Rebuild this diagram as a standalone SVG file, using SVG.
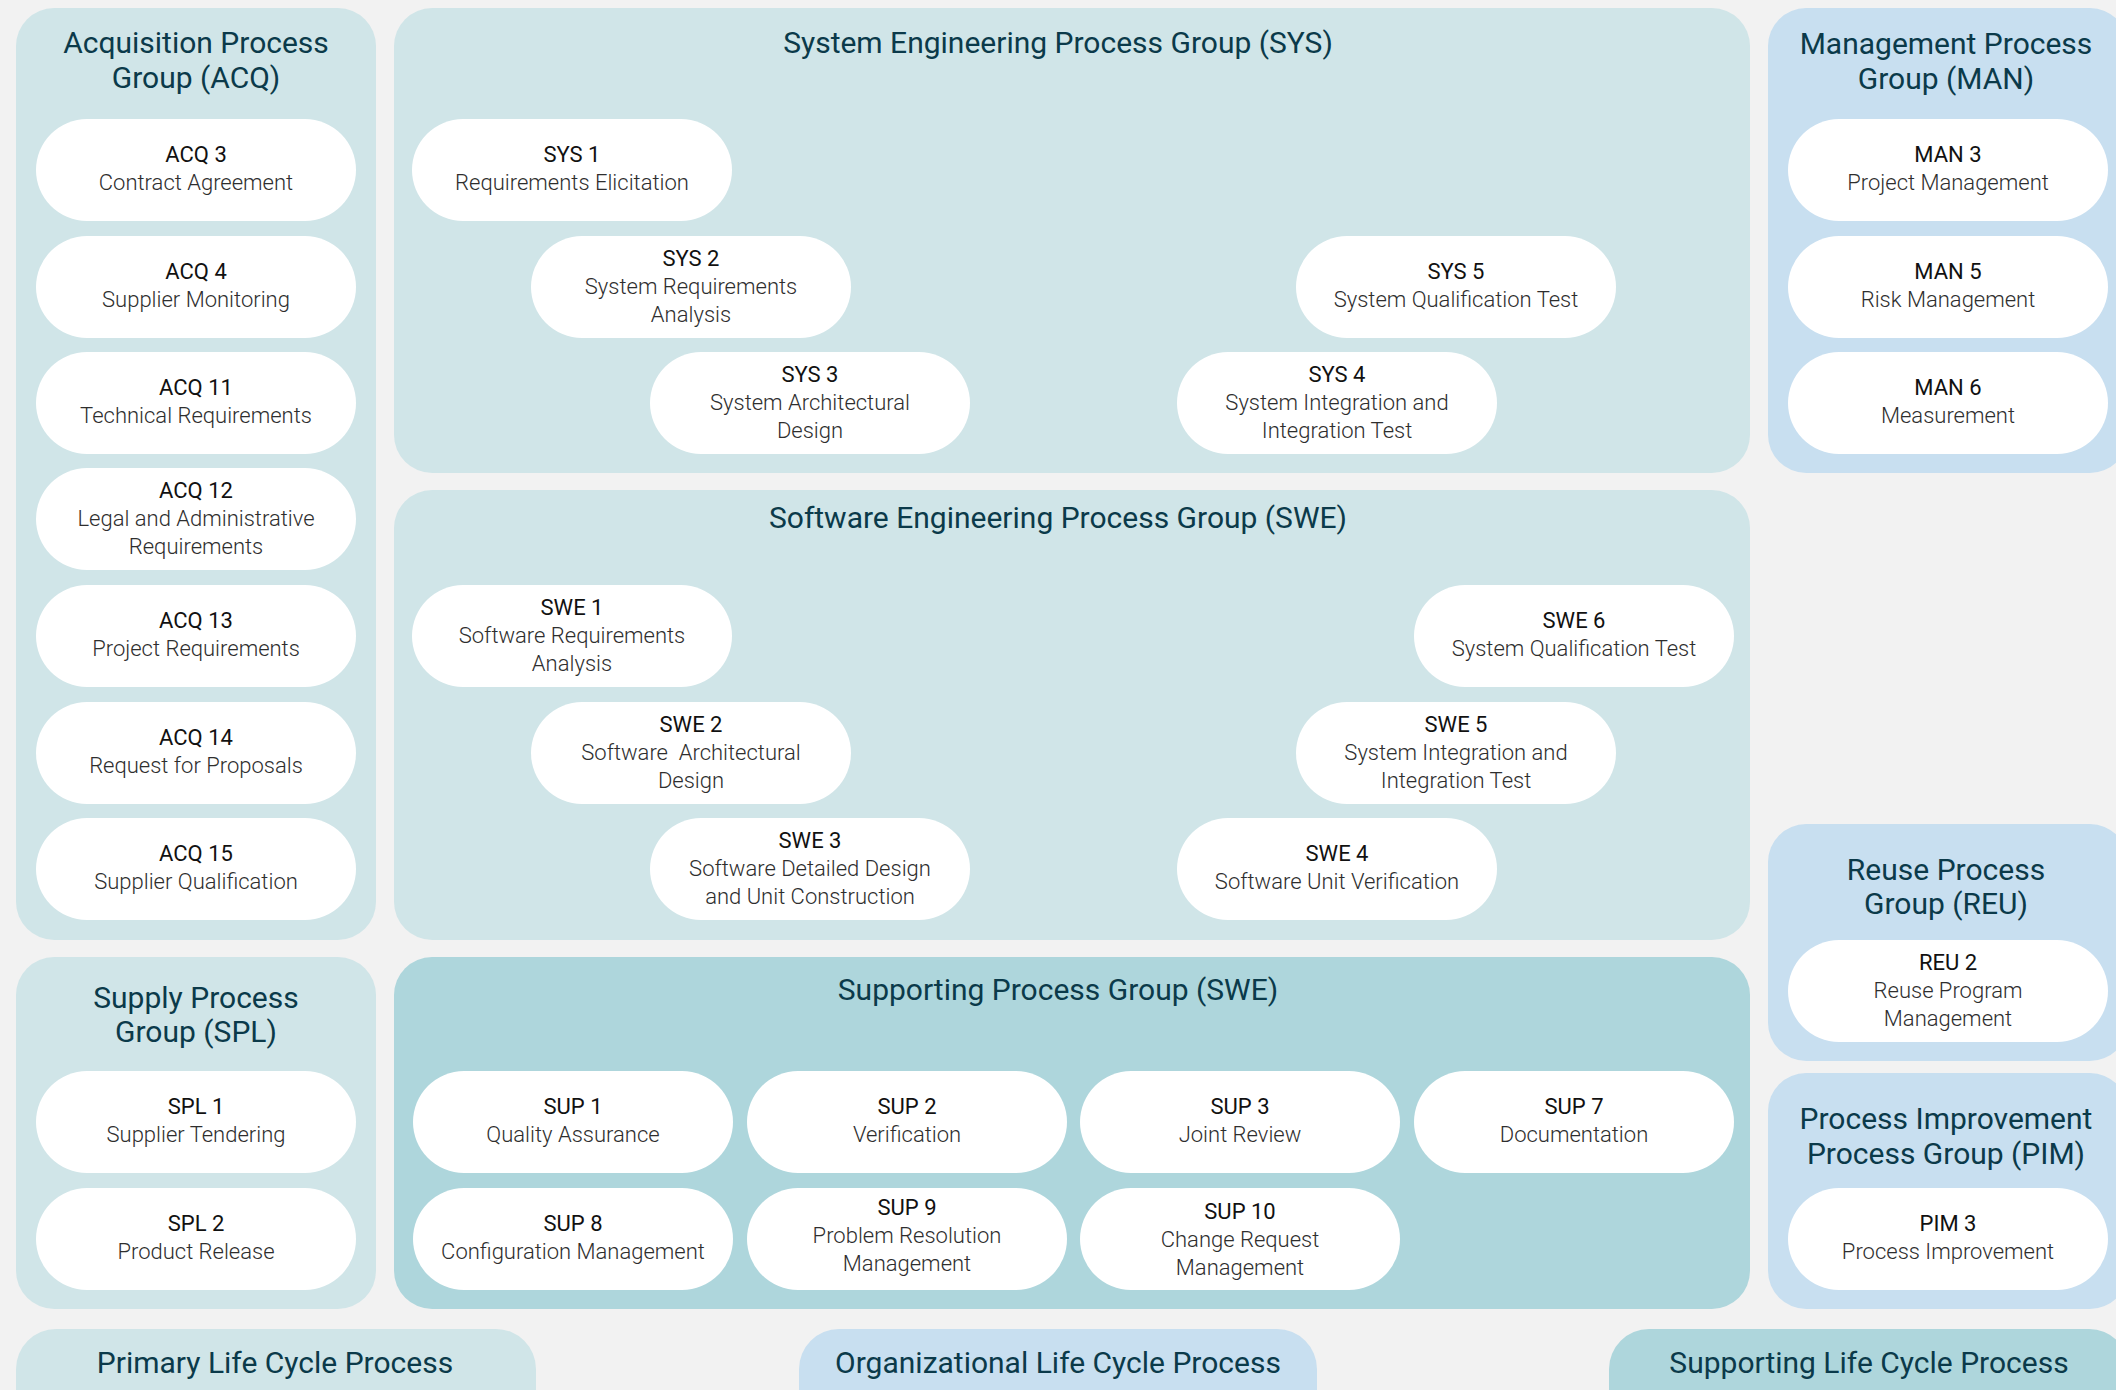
<svg xmlns="http://www.w3.org/2000/svg" width="2116" height="1390" viewBox="0 0 2116 1390">
<defs>
<style>
.bg{fill:#f2f2f2}
.gA{fill:#d0e5e8}
.gS{fill:#aed6dc}
.gO{fill:#c8dff0}
.pill{fill:#ffffff}
text{font-family:Roboto,"Liberation Sans",sans-serif;text-anchor:middle}
.title{font-size:30px;fill:#0b3a4a}
.legend{font-size:30px;fill:#0b3a4a}
.lbl{font-size:22px;fill:#111111}
.desc{font-size:22px;font-weight:300;fill:#2e2e2e}
</style>
</defs>
<rect class="bg" x="0" y="0" width="2116" height="1390"/>

<!-- Acquisition -->
<g id="grp-acq">
<rect class="gA" x="16" y="8" width="360" height="932" rx="38"/>
<text class="title" x="196" y="53">Acquisition Process</text>
<text class="title" x="196" y="88">Group (ACQ)</text>
<g id="acq3"><rect class="pill" x="36" y="119" width="320" height="102" rx="51"/><text class="lbl" x="196" y="162">ACQ 3</text><text class="desc" x="196" y="190">Contract Agreement</text></g>
<g id="acq4"><rect class="pill" x="36" y="236" width="320" height="102" rx="51"/><text class="lbl" x="196" y="279">ACQ 4</text><text class="desc" x="196" y="307">Supplier Monitoring</text></g>
<g id="acq11"><rect class="pill" x="36" y="352" width="320" height="102" rx="51"/><text class="lbl" x="196" y="395">ACQ 11</text><text class="desc" x="196" y="423">Technical Requirements</text></g>
<g id="acq12"><rect class="pill" x="36" y="468" width="320" height="102" rx="51"/><text class="lbl" x="196" y="498">ACQ 12</text><text class="desc" x="196" y="526">Legal and Administrative</text><text class="desc" x="196" y="554">Requirements</text></g>
<g id="acq13"><rect class="pill" x="36" y="585" width="320" height="102" rx="51"/><text class="lbl" x="196" y="628">ACQ 13</text><text class="desc" x="196" y="656">Project Requirements</text></g>
<g id="acq14"><rect class="pill" x="36" y="702" width="320" height="102" rx="51"/><text class="lbl" x="196" y="745">ACQ 14</text><text class="desc" x="196" y="773">Request for Proposals</text></g>
<g id="acq15"><rect class="pill" x="36" y="818" width="320" height="102" rx="51"/><text class="lbl" x="196" y="861">ACQ 15</text><text class="desc" x="196" y="889">Supplier Qualification</text></g>
</g>

<!-- System Engineering -->
<g id="grp-sys">
<rect class="gA" x="394" y="8" width="1356" height="465" rx="38"/>
<text class="title" x="1058" y="53">System Engineering Process Group (SYS)</text>
<g id="sys1"><rect class="pill" x="412" y="119" width="320" height="102" rx="51"/><text class="lbl" x="572" y="162">SYS 1</text><text class="desc" x="572" y="190">Requirements Elicitation</text></g>
<g id="sys2"><rect class="pill" x="531" y="236" width="320" height="102" rx="51"/><text class="lbl" x="691" y="266">SYS 2</text><text class="desc" x="691" y="294">System Requirements</text><text class="desc" x="691" y="322">Analysis</text></g>
<g id="sys3"><rect class="pill" x="650" y="352" width="320" height="102" rx="51"/><text class="lbl" x="810" y="382">SYS 3</text><text class="desc" x="810" y="410">System Architectural</text><text class="desc" x="810" y="438">Design</text></g>
<g id="sys5"><rect class="pill" x="1296" y="236" width="320" height="102" rx="51"/><text class="lbl" x="1456" y="279">SYS 5</text><text class="desc" x="1456" y="307">System Qualification Test</text></g>
<g id="sys4"><rect class="pill" x="1177" y="352" width="320" height="102" rx="51"/><text class="lbl" x="1337" y="382">SYS 4</text><text class="desc" x="1337" y="410">System Integration and</text><text class="desc" x="1337" y="438">Integration Test</text></g>
</g>

<!-- Management -->
<g id="grp-man">
<rect class="gO" x="1768" y="8" width="360" height="465" rx="38"/>
<text class="title" x="1946" y="54">Management Process</text>
<text class="title" x="1946" y="89">Group (MAN)</text>
<g id="man3"><rect class="pill" x="1788" y="119" width="320" height="102" rx="51"/><text class="lbl" x="1948" y="162">MAN 3</text><text class="desc" x="1948" y="190">Project Management</text></g>
<g id="man5"><rect class="pill" x="1788" y="236" width="320" height="102" rx="51"/><text class="lbl" x="1948" y="279">MAN 5</text><text class="desc" x="1948" y="307">Risk Management</text></g>
<g id="man6"><rect class="pill" x="1788" y="352" width="320" height="102" rx="51"/><text class="lbl" x="1948" y="395">MAN 6</text><text class="desc" x="1948" y="423">Measurement</text></g>
</g>

<!-- Software Engineering -->
<g id="grp-swe">
<rect class="gA" x="394" y="490" width="1356" height="450" rx="38"/>
<text class="title" x="1058" y="528">Software Engineering Process Group (SWE)</text>
<g id="swe1"><rect class="pill" x="412" y="585" width="320" height="102" rx="51"/><text class="lbl" x="572" y="615">SWE 1</text><text class="desc" x="572" y="643">Software Requirements</text><text class="desc" x="572" y="671">Analysis</text></g>
<g id="swe2"><rect class="pill" x="531" y="702" width="320" height="102" rx="51"/><text class="lbl" x="691" y="732">SWE 2</text><text class="desc" x="691" y="760">Software&#160; Architectural</text><text class="desc" x="691" y="788">Design</text></g>
<g id="swe3"><rect class="pill" x="650" y="818" width="320" height="102" rx="51"/><text class="lbl" x="810" y="848">SWE 3</text><text class="desc" x="810" y="876">Software Detailed Design</text><text class="desc" x="810" y="904">and Unit Construction</text></g>
<g id="swe6"><rect class="pill" x="1414" y="585" width="320" height="102" rx="51"/><text class="lbl" x="1574" y="628">SWE 6</text><text class="desc" x="1574" y="656">System Qualification Test</text></g>
<g id="swe5"><rect class="pill" x="1296" y="702" width="320" height="102" rx="51"/><text class="lbl" x="1456" y="732">SWE 5</text><text class="desc" x="1456" y="760">System Integration and</text><text class="desc" x="1456" y="788">Integration Test</text></g>
<g id="swe4"><rect class="pill" x="1177" y="818" width="320" height="102" rx="51"/><text class="lbl" x="1337" y="861">SWE 4</text><text class="desc" x="1337" y="889">Software Unit Verification</text></g>
</g>

<!-- Reuse -->
<g id="grp-reu">
<rect class="gO" x="1768" y="824" width="360" height="237" rx="38"/>
<text class="title" x="1946" y="880">Reuse Process</text>
<text class="title" x="1946" y="914">Group (REU)</text>
<g id="reu2"><rect class="pill" x="1788" y="940" width="320" height="102" rx="51"/><text class="lbl" x="1948" y="970">REU 2</text><text class="desc" x="1948" y="998">Reuse Program</text><text class="desc" x="1948" y="1026">Management</text></g>
</g>

<!-- Supply -->
<g id="grp-spl">
<rect class="gA" x="16" y="957" width="360" height="352" rx="38"/>
<text class="title" x="196" y="1008">Supply Process</text>
<text class="title" x="196" y="1042">Group (SPL)</text>
<g id="spl1"><rect class="pill" x="36" y="1071" width="320" height="102" rx="51"/><text class="lbl" x="196" y="1114">SPL 1</text><text class="desc" x="196" y="1142">Supplier Tendering</text></g>
<g id="spl2"><rect class="pill" x="36" y="1188" width="320" height="102" rx="51"/><text class="lbl" x="196" y="1231">SPL 2</text><text class="desc" x="196" y="1259">Product Release</text></g>
</g>

<!-- Supporting -->
<g id="grp-sup">
<rect class="gS" x="394" y="957" width="1356" height="352" rx="38"/>
<text class="title" x="1058" y="1000">Supporting Process Group (SWE)</text>
<g id="sup1"><rect class="pill" x="413" y="1071" width="320" height="102" rx="51"/><text class="lbl" x="573" y="1114">SUP 1</text><text class="desc" x="573" y="1142">Quality Assurance</text></g>
<g id="sup2"><rect class="pill" x="747" y="1071" width="320" height="102" rx="51"/><text class="lbl" x="907" y="1114">SUP 2</text><text class="desc" x="907" y="1142">Verification</text></g>
<g id="sup3"><rect class="pill" x="1080" y="1071" width="320" height="102" rx="51"/><text class="lbl" x="1240" y="1114">SUP 3</text><text class="desc" x="1240" y="1142">Joint Review</text></g>
<g id="sup7"><rect class="pill" x="1414" y="1071" width="320" height="102" rx="51"/><text class="lbl" x="1574" y="1114">SUP 7</text><text class="desc" x="1574" y="1142">Documentation</text></g>
<g id="sup8"><rect class="pill" x="413" y="1188" width="320" height="102" rx="51"/><text class="lbl" x="573" y="1231">SUP 8</text><text class="desc" x="573" y="1259">Configuration Management</text></g>
<g id="sup9"><rect class="pill" x="747" y="1188" width="320" height="102" rx="51"/><text class="lbl" x="907" y="1215">SUP 9</text><text class="desc" x="907" y="1243">Problem Resolution</text><text class="desc" x="907" y="1271">Management</text></g>
<g id="sup10"><rect class="pill" x="1080" y="1188" width="320" height="102" rx="51"/><text class="lbl" x="1240" y="1219">SUP 10</text><text class="desc" x="1240" y="1247">Change Request</text><text class="desc" x="1240" y="1275">Management</text></g>
</g>

<!-- Process Improvement -->
<g id="grp-pim">
<rect class="gO" x="1768" y="1073" width="360" height="236" rx="38"/>
<text class="title" x="1946" y="1129">Process Improvement</text>
<text class="title" x="1946" y="1164">Process Group (PIM)</text>
<g id="pim3"><rect class="pill" x="1788" y="1188" width="320" height="102" rx="51"/><text class="lbl" x="1948" y="1231">PIM 3</text><text class="desc" x="1948" y="1259">Process Improvement</text></g>
</g>

<g id="connectors"/>

<!-- Legend -->
<g id="legend-primary"><rect class="gA" x="16" y="1329" width="520" height="110" rx="40"/><text class="legend" x="275" y="1373">Primary Life Cycle Process</text></g>
<g id="legend-org"><rect class="gO" x="799" y="1329" width="518" height="110" rx="40"/><text class="legend" x="1058" y="1373">Organizational Life Cycle Process</text></g>
<g id="legend-sup"><rect class="gS" x="1609" y="1329" width="520" height="110" rx="40"/><text class="legend" x="1869" y="1373">Supporting Life Cycle Process</text></g>
</svg>
